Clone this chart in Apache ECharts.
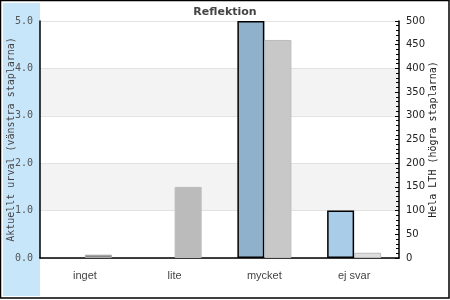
<!DOCTYPE html>
<html>
<head>
<meta charset="utf-8">
<script src="https://cdn.jsdelivr.net/npm/echarts@6/dist/echarts.min.js"></script>
<style>html,body{margin:0;padding:0;background:#fff}#c{width:450px;height:300px}</style>
</head>
<body>
<div id="c"></div>
<script>
const categories = ['inget', 'lite', 'mycket', 'ej svar'];
const leftValues = [0, 0, 5.0, 1.0];
const rightValues = [7, 150, 460, 11];
const leftColors = ['#a9cce9', '#a9cce9', '#8fb1cc', '#a9cce9'];
const rightColors = ['#888888', '#bbbbbb', '#c8c8c8', '#dddddd'];
const rightBorders = ['#aaaaaa', '#bbbbbb', '#bbbbbb', '#bbbbbb'];
const leftTicks = [0, 1, 2, 3, 4, 5];
const rightTicks = [0, 50, 100, 150, 200, 250, 300, 350, 400, 450, 500];

const chart = echarts.init(document.getElementById('c'), null, {renderer: 'canvas'});
chart.setOption({
  animation: false,
  backgroundColor: '#fff',
  title: {
    text: 'Reflektion', left: 'center', top: 2,
    textStyle: {fontFamily: 'DejaVu Sans', fontSize: 11, fontWeight: 'bold', color: '#444'}
  },
  graphic: [
    {type: 'rect', z: -10, shape: {x: 3, y: 3, width: 37, height: 293}, style: {fill: '#c8e6fa'}},
    {type: 'rect', z: 100, shape: {x: 0.5, y: 0.5, width: 448.5, height: 297.5}, style: {fill: 'none', stroke: '#000', lineWidth: 1.5}}
  ],
  grid: {left: 40, right: 51, top: 21, bottom: 42, outerBoundsMode: 'none', containLabel: false},
  xAxis: {
    type: 'category', data: categories,
    axisLine: {lineStyle: {color: '#000', width: 1.5}},
    axisTick: {show: false},
    axisLabel: {fontFamily: 'Liberation Sans', fontSize: 11, color: '#444', margin: 12}
  },
  yAxis: [
    {
      type: 'value', min: 0, max: 5, interval: 1,
      name: 'Aktuellt urval (vänstra staplarna)', nameLocation: 'middle', nameGap: 24, nameRotate: 90,
      nameMoveOverlap: false,
      nameTextStyle: {fontFamily: 'DejaVu Sans Mono', fontSize: 10, color: '#444'},
      axisLine: {show: true, lineStyle: {color: '#000', width: 1.5}},
      axisTick: {show: false},
      axisLabel: {fontFamily: 'DejaVu Sans Mono', fontSize: 10, color: '#555', margin: 7,
        formatter: v => leftTicks.includes(v) ? v.toFixed(1) : ''},
      splitLine: {lineStyle: {color: '#e2e2e2'}},
      splitArea: {show: true, areaStyle: {color: ['#ffffff', '#f3f3f3']}}
    },
    {
      type: 'value', min: 0, max: 500, interval: 50, position: 'right',
      name: 'Hela LTH (högra staplarna)', nameLocation: 'middle', nameGap: 29, nameRotate: 90,
      nameMoveOverlap: false,
      nameTextStyle: {fontFamily: 'DejaVu Sans Mono', fontSize: 10, color: '#222'},
      axisLine: {show: true, lineStyle: {color: '#000', width: 1.5}},
      axisTick: {show: true, inside: true, length: 4, lineStyle: {color: '#000'}},
      minorTick: {show: true, splitNumber: 5, length: 3, lineStyle: {color: '#000'}},
      axisLabel: {fontFamily: 'DejaVu Sans', fontSize: 10, color: '#222', margin: 7,
        formatter: v => rightTicks.includes(v) ? String(v) : ''},
      splitLine: {show: false}
    }
  ],
  series: [
    {
      type: 'bar', yAxisIndex: 0, barWidth: 27, barGap: '0%',
      data: leftValues.map((v, i) => ({value: v, itemStyle: {color: leftColors[i], borderColor: v > 0 ? '#000' : 'transparent', borderWidth: 1.5}}))
    },
    {
      type: 'bar', yAxisIndex: 1, barWidth: 27, barGap: '0%',
      data: rightValues.map((v, i) => ({value: v, itemStyle: {color: rightColors[i], borderColor: rightBorders[i], borderWidth: 1}}))
    }
  ]
});
</script>
</body>
</html>
